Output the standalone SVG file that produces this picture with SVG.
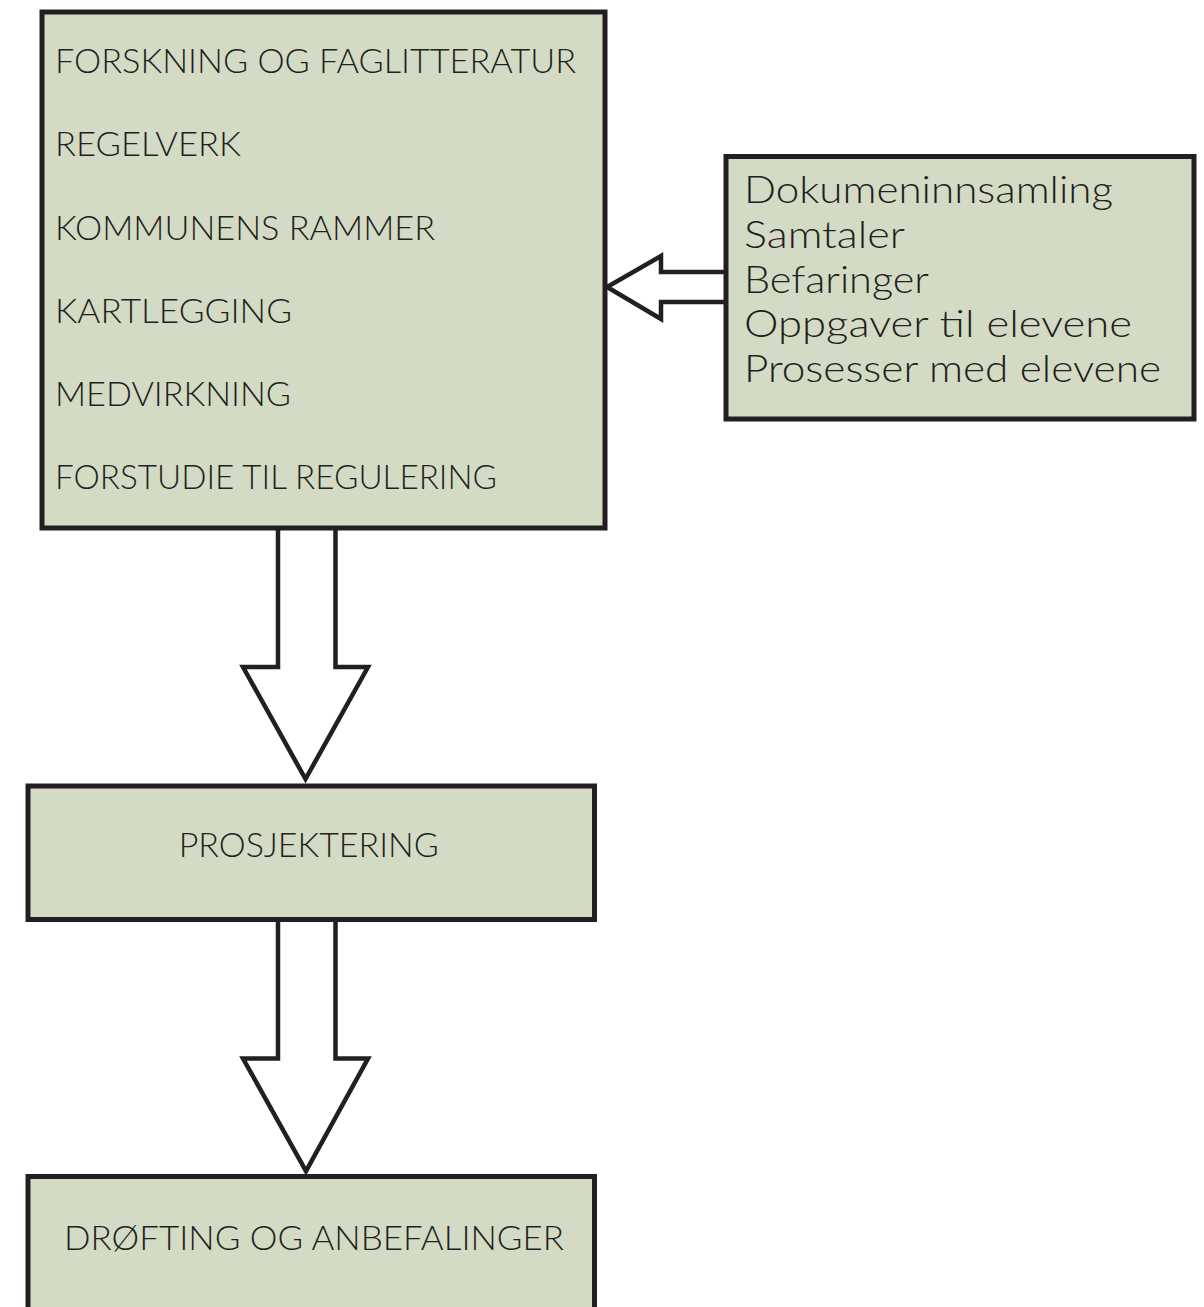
<svg xmlns="http://www.w3.org/2000/svg" width="1204" height="1307" viewBox="0 0 1204 1307">
  <style>
    .box { fill: #d4dbc5; stroke: #231f20; stroke-width: 5; }
    .arrow { fill: #ffffff; stroke: #231f20; stroke-width: 4.5; stroke-linejoin: miter; }
    .cap { font-family: Lato, "Liberation Sans", Arial, sans-serif; font-weight: 300; font-size: 34px; fill: #231f20; }
    .low { font-family: Lato, "Liberation Sans", Arial, sans-serif; font-weight: 300; font-size: 37px; fill: #231f20; }
  </style>
  <rect width="1204" height="1307" fill="#ffffff"/>

  <g id="connectors">
    <path class="arrow" d="M725,272 H661 V256 L607,287 L661,319 V302 H725"/>
    <path class="arrow" d="M278,529 V667 H243 L305.5,779 L368,667 H335.5 V529"/>
    <path class="arrow" d="M278,921 V1058.5 H243 L306,1171 L368,1058.5 H335.5 V921"/>
  </g>

  <g id="node-main">
    <rect class="box" x="42" y="12" width="563" height="516"/>
    <text class="cap" x="55" y="73" textLength="521" lengthAdjust="spacingAndGlyphs">FORSKNING OG FAGLITTERATUR</text>
    <text class="cap" x="55" y="156" textLength="186" lengthAdjust="spacingAndGlyphs">REGELVERK</text>
    <text class="cap" x="55" y="239.5" textLength="380" lengthAdjust="spacingAndGlyphs">KOMMUNENS RAMMER</text>
    <text class="cap" x="55" y="322.5" textLength="237" lengthAdjust="spacingAndGlyphs">KARTLEGGING</text>
    <text class="cap" x="55" y="405.5" textLength="236" lengthAdjust="spacingAndGlyphs">MEDVIRKNING</text>
    <text class="cap" x="55" y="489" textLength="442" lengthAdjust="spacingAndGlyphs">FORSTUDIE TIL REGULERING</text>
  </g>

  <g id="node-methods">
    <rect class="box" x="726" y="156.5" width="468" height="262.5"/>
    <text class="low" x="744" y="202.5" textLength="369" lengthAdjust="spacingAndGlyphs">Dokumeninnsamling</text>
    <text class="low" x="744" y="247.5" textLength="161" lengthAdjust="spacingAndGlyphs">Samtaler</text>
    <text class="low" x="744" y="292.5" textLength="185" lengthAdjust="spacingAndGlyphs">Befaringer</text>
    <text class="low" x="744" y="337" textLength="388" lengthAdjust="spacingAndGlyphs">Oppgaver til elevene</text>
    <text class="low" x="744" y="382" textLength="417" lengthAdjust="spacingAndGlyphs">Prosesser med elevene</text>
  </g>

  <g id="node-prosjektering">
    <rect class="box" x="28" y="786" width="566.5" height="133.5"/>
    <text class="cap" x="178.7" y="856.7" textLength="260" lengthAdjust="spacingAndGlyphs">PROSJEKTERING</text>
  </g>

  <g id="node-drofting">
    <rect class="box" x="28" y="1176.5" width="566.5" height="150"/>
    <text class="cap" x="64" y="1250" textLength="500" lengthAdjust="spacingAndGlyphs">DRØFTING OG ANBEFALINGER</text>
  </g>
</svg>
